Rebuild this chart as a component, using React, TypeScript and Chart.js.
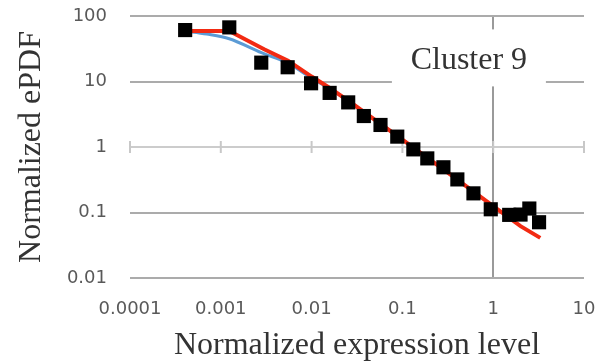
import React, { useEffect, useRef } from 'react';
import { Chart, registerables } from 'chart.js';

Chart.register(...registerables);

// Axis ticks
const xTicks = [0.0001, 0.001, 0.01, 0.1, 1, 10];
const xTickLabels = ['0.0001', '0.001', '0.01', '0.1', '1', '10'];
const yTicks = [0.01, 0.1, 1, 10, 100];
const yTickLabels = ['0.01', '0.1', '1', '10', '100'];

// Observed ePDF (black squares)
const pointsX = [0.000405, 0.00124, 0.00279, 0.00545, 0.00987, 0.0158, 0.0253, 0.0376, 0.0574, 0.0878, 0.132, 0.188, 0.283, 0.403, 0.606, 0.94, 1.5, 2.0, 2.5, 3.2];
const pointsY = [61, 67, 19.4, 16.5, 9.4, 6.7, 4.8, 2.97, 2.17, 1.44, 0.92, 0.67, 0.49, 0.32, 0.196, 0.112, 0.092, 0.093, 0.115, 0.071];

// Red fit curve
const redX = [0.0004, 0.00124, 0.003, 0.0055, 0.01, 0.016, 0.03, 0.1, 0.3, 1, 2, 3.3];
const redY = [59, 59, 31, 20.8, 11.9, 7.9, 4.3, 1.3, 0.43, 0.125, 0.062, 0.041];

// Blue fit curve
const blueX = [0.0004, 0.0007, 0.00124, 0.0028, 0.0055, 0.01, 0.016, 0.03, 0.1, 0.3, 1];
const blueY = [59, 53, 45, 27.5, 19, 11.2, 7.7, 4.3, 1.3, 0.43, 0.125];

const LABEL_TEXT = 'Cluster 9';
const LABEL_X = 0.54;
const LABEL_Y = 21;

const X_TITLE = 'Normalized expression level';
const Y_TITLE = 'Normalized ePDF';

const zip = (xs: number[], ys: number[]) => xs.map((x, i) => ({ x, y: ys[i] }));

export default function App() {
  const ref = useRef<HTMLCanvasElement>(null);

  useEffect(() => {
    document.body.style.margin = '0';
    const canvas = ref.current!;

    const overlay = {
      id: 'overlay',
      beforeDatasetsDraw(chart: any) {
        const { ctx } = chart;
        const xs = chart.scales.x;
        const ys = chart.scales.y;
        const yOne = ys.getPixelForValue(1);
        ctx.save();
        ctx.strokeStyle = '#c8c8c8';
        ctx.lineWidth = 2;
        xTicks.forEach((v) => {
          const px = xs.getPixelForValue(v);
          ctx.beginPath();
          ctx.moveTo(px, yOne - 6);
          ctx.lineTo(px, yOne + 6);
          ctx.stroke();
        });
        const cx = xs.getPixelForValue(LABEL_X);
        const cy = ys.getPixelForValue(LABEL_Y);
        ctx.fillStyle = '#ffffff';
        ctx.fillRect(cx - 77, cy - 31, 154, 57);
        ctx.fillStyle = '#333333';
        ctx.font = '32px "Liberation Serif"';
        ctx.textAlign = 'center';
        ctx.textBaseline = 'middle';
        ctx.fillText(LABEL_TEXT, cx, cy);
        ctx.restore();
      },
    };

    const tickFont = { family: '"DejaVu Sans"', size: 18 };
    const titleFont = { family: '"Liberation Serif"', size: 32, lineHeight: 1 };

    const chart = new Chart(canvas, {
      type: 'scatter',
      data: {
        datasets: [
          {
            type: 'scatter',
            data: zip(pointsX, pointsY),
            pointStyle: 'rect',
            pointRadius: 10,
            pointHoverRadius: 10,
            backgroundColor: '#000000',
            borderColor: '#000000',
            borderWidth: 0,
            order: 0,
          },
          {
            type: 'line',
            data: zip(redX, redY),
            borderColor: '#f22a12',
            borderWidth: 4,
            pointRadius: 0,
            tension: 0,
            fill: false,
            order: 1,
          },
          {
            type: 'line',
            data: zip(blueX, blueY),
            borderColor: '#5b9bd5',
            borderWidth: 3,
            pointRadius: 0,
            cubicInterpolationMode: 'monotone',
            fill: false,
            order: 2,
          },
        ] as any,
      },
      options: {
        responsive: false,
        animation: false,
        devicePixelRatio: 1,
        layout: { padding: { top: 16, right: 13, left: 0, bottom: 0 } },
        plugins: {
          legend: { display: false },
          tooltip: { enabled: false },
        },
        scales: {
          x: {
            type: 'logarithmic',
            position: 'bottom',
            min: 0.0001,
            max: 10,
            afterBuildTicks: (scale: any) => {
              scale.ticks = xTicks.map((v) => ({ value: v }));
            },
            afterFit: (scale: any) => {
              scale.height = 83;
              scale.paddingLeft = 0;
              scale.paddingRight = 0;
            },
            ticks: {
              autoSkip: false,
              maxRotation: 0,
              padding: 21,
              font: tickFont,
              color: '#595959',
              callback: (_v: any, i: number) => xTickLabels[i],
            },
            grid: {
              drawTicks: false,
              lineWidth: 2,
              color: (ctx: any) => (ctx.tick && ctx.tick.value === 1 ? '#9a9a9a' : 'rgba(0,0,0,0)'),
            },
            border: { display: false },
            title: {
              display: true,
              text: X_TITLE,
              font: titleFont,
              color: '#333333',
              padding: { top: 0, bottom: -1 },
            },
          },
          y: {
            type: 'logarithmic',
            position: 'left',
            min: 0.01,
            max: 100,
            afterBuildTicks: (scale: any) => {
              scale.ticks = yTicks.map((v) => ({ value: v }));
            },
            afterFit: (scale: any) => {
              scale.width = 130;
              scale.paddingTop = 0;
              scale.paddingBottom = 0;
            },
            ticks: {
              autoSkip: false,
              padding: 23,
              font: tickFont,
              color: '#595959',
              callback: (_v: any, i: number) => yTickLabels[i],
            },
            grid: {
              drawTicks: false,
              lineWidth: 2,
              color: (ctx: any) => (ctx.tick && ctx.tick.value === 1 ? '#cccccc' : '#ababab'),
            },
            border: { display: false },
            title: {
              display: true,
              text: Y_TITLE,
              font: titleFont,
              color: '#333333',
              padding: { top: 16, bottom: 0 },
            },
          },
        },
      } as any,
      plugins: [overlay],
    });

    return () => chart.destroy();
  }, []);

  return (
    <canvas
      ref={ref}
      width={597}
      height={361}
      style={{ display: 'block', width: 597, height: 361 }}
    />
  );
}
